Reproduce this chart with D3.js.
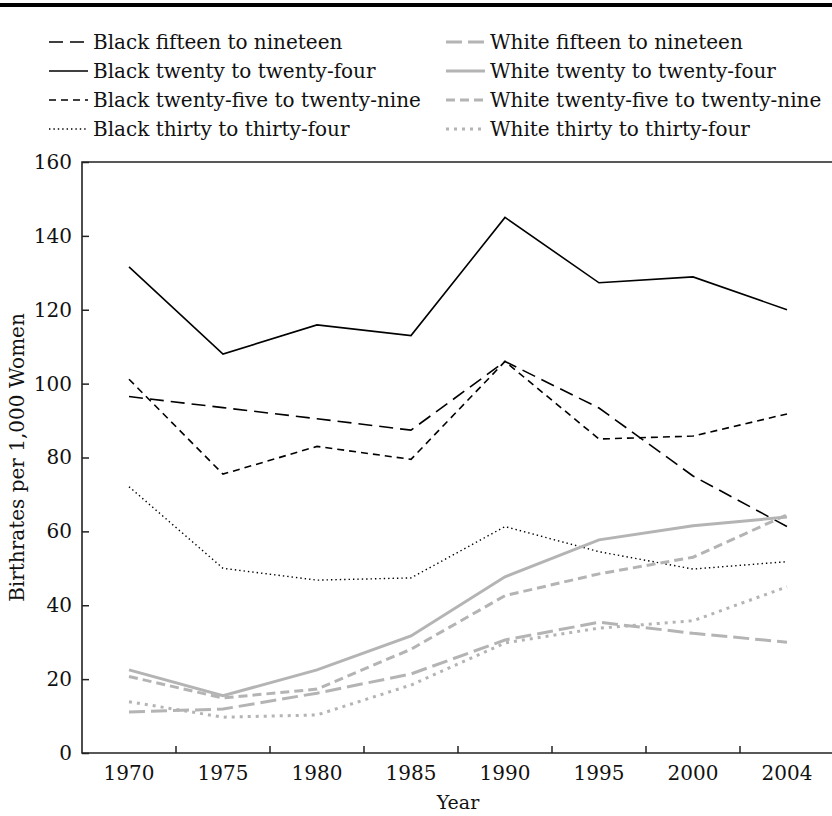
<!DOCTYPE html>
<html>
<head>
<meta charset="utf-8">
<script src="https://cdn.jsdelivr.net/npm/d3@7"></script>
<style>
  body { margin: 0; background: #fff; }
  svg { display: block; }
</style>
</head>
<body>
<div id="chart"></div>
<script>
// data
const years = ["1970", "1975", "1980", "1985", "1990", "1995", "2000", "2004"];
const yTicks = [0, 20, 40, 60, 80, 100, 120, 140, 160];

const black15to19 = [96.5, 93.5, 90.5, 87.4, 106, 93.4, 75, 61.3];
const black20to24 = [131.6, 108, 115.9, 113, 145, 127.3, 128.9, 120];
const black25to29 = [101.2, 75.5, 83, 79.5, 106, 85, 85.8, 91.8];
const black30to34 = [72.1, 50, 46.8, 47.4, 61.3, 54.5, 49.8, 51.8];
const white15to19 = [11.1, 11.9, 16.2, 21.4, 30.6, 35.4, 32.4, 30];
const white20to24 = [22.5, 15.5, 22.5, 31.7, 47.7, 57.7, 61.5, 63.9];
const white25to29 = [20.7, 14.9, 17.3, 28.1, 42.6, 48.5, 53, 64.5];
const white30to34 = [13.9, 9.7, 10.3, 18.4, 29.8, 33.8, 35.8, 45];

const gray = "#b4b4b4";
const font = "'DejaVu Serif', serif";
const series = [
  {name: "Black fifteen to nineteen", values: black15to19, color: "#000", width: 1.6, dash: "14,7"},
  {name: "Black twenty to twenty-four", values: black20to24, color: "#000", width: 1.6, dash: null},
  {name: "Black twenty-five to twenty-nine", values: black25to29, color: "#000", width: 1.6, dash: "7,5"},
  {name: "Black thirty to thirty-four", values: black30to34, color: "#000", width: 1.4, dash: "1.4,3"},
  {name: "White fifteen to nineteen", values: white15to19, color: gray, width: 3, dash: "16,6"},
  {name: "White twenty to twenty-four", values: white20to24, color: gray, width: 3, dash: null},
  {name: "White twenty-five to twenty-nine", values: white25to29, color: gray, width: 3, dash: "9,5"},
  {name: "White thirty to thirty-four", values: white30to34, color: gray, width: 3, dash: "3,5"}
];

const width = 832, height = 816;
const margin = {top: 162, right: -2, bottom: 63, left: 82};

const svg = d3.select("#chart").append("svg")
  .attr("width", width)
  .attr("height", height)
  .style("font-family", font);

// heavy rule across the top
svg.append("rect")
  .attr("x", 0).attr("y", 3)
  .attr("width", width).attr("height", 4)
  .attr("fill", "#000");

const x = d3.scaleBand()
  .domain(years)
  .range([margin.left, width - margin.right]);

const y = d3.scaleLinear()
  .domain([0, 160])
  .range([height - margin.bottom, margin.top]);

// y axis, ticks pointing inward
const yAxis = svg.append("g")
  .attr("transform", `translate(${margin.left},0)`)
  .call(d3.axisLeft(y).tickValues(yTicks).tickSize(-7).tickPadding(10));
yAxis.attr("font-family", null).attr("font-size", 20);
yAxis.select(".domain").remove();
yAxis.selectAll(".tick line").attr("stroke", "#222").attr("stroke-width", 1.5);
yAxis.selectAll(".tick text").attr("x", -10).attr("fill", "#111");

// x axis labels at band centres, ticks at band edges
const xAxis = svg.append("g")
  .attr("transform", `translate(0,${height - margin.bottom})`)
  .call(d3.axisBottom(x).tickSize(0).tickPadding(13));
xAxis.attr("font-family", null).attr("font-size", 20);
xAxis.select(".domain").remove();
xAxis.selectAll(".tick text").attr("fill", "#111");

svg.append("g")
  .selectAll("line")
  .data(years.slice(1))
  .join("line")
  .attr("x1", d => x(d)).attr("x2", d => x(d))
  .attr("y1", y(0)).attr("y2", y(0) - 7)
  .attr("stroke", "#222").attr("stroke-width", 1.5);

// frame: left, bottom, top
svg.append("path")
  .attr("d", `M${width},${y(160)}H${margin.left}V${y(0)}H${width}`)
  .attr("fill", "none")
  .attr("stroke", "#222")
  .attr("stroke-width", 1.6);

// axis titles
svg.append("text")
  .attr("x", (margin.left + width) / 2 + 1)
  .attr("y", 809)
  .attr("text-anchor", "middle")
  .attr("font-size", 19)
  .attr("fill", "#111")
  .text("Year");

svg.append("text")
  .attr("transform", `translate(24,${(y(0) + y(160)) / 2})rotate(-90)`)
  .attr("text-anchor", "middle")
  .attr("font-size", 20)
  .attr("fill", "#111")
  .text("Birthrates per 1,000 Women");

// lines
const line = d3.line()
  .x((d, i) => x(years[i]) + x.bandwidth() / 2)
  .y(d => y(d));

svg.append("g")
  .selectAll("path")
  .data(series)
  .join("path")
  .attr("fill", "none")
  .attr("stroke", d => d.color)
  .attr("stroke-width", d => d.width)
  .attr("stroke-dasharray", d => d.dash)
  .attr("d", d => line(d.values));

// legend: two columns of four
const legend = svg.append("g");
const item = legend.selectAll("g")
  .data(series)
  .join("g")
  .attr("transform", (d, i) => `translate(${i < 4 ? 49 : 446},${42 + (i % 4) * 29})`);

item.append("line")
  .attr("x1", 0).attr("x2", 39)
  .attr("y1", 0).attr("y2", 0)
  .attr("stroke", d => d.color)
  .attr("stroke-width", d => d.width)
  .attr("stroke-dasharray", d => d.dash);

item.append("text")
  .attr("x", 44)
  .attr("y", 7)
  .attr("font-size", 20)
  .attr("fill", "#111")
  .text(d => d.name);
</script>
</body>
</html>
